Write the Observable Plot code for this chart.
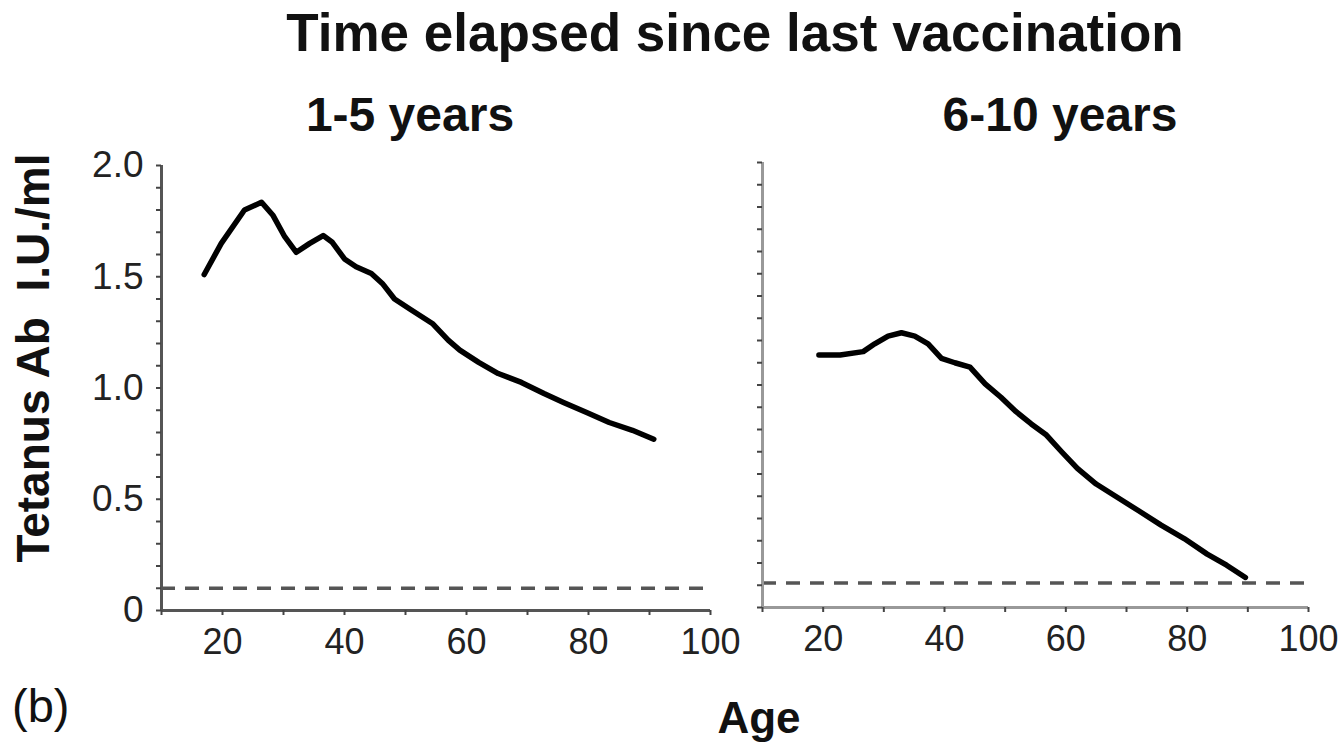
<!DOCTYPE html>
<html>
<head>
<meta charset="utf-8">
<script src="https://cdn.jsdelivr.net/npm/d3@7"></script>
<script src="https://cdn.jsdelivr.net/npm/@observablehq/plot@0.6"></script>
<style>
  html, body { margin: 0; padding: 0; background: #fff; }
  #wrap { position: relative; width: 1340px; height: 746px; overflow: hidden; background: #fff;
          font-family: "Liberation Sans", Arial, sans-serif; color: #111; }
  .t { position: absolute; white-space: nowrap; line-height: 1; }
  .panel { position: absolute; top: 0; }
</style>
</head>
<body>
<div id="wrap">
  <div class="t" id="title" style="font-size:53px;font-weight:bold;left:0;width:1470px;text-align:center;top:6px;">Time elapsed since last vaccination</div>
  <div class="t" id="sub1" style="font-size:48px;font-weight:bold;left:210px;width:400px;text-align:center;top:91px;">1-5 years</div>
  <div class="t" id="sub2" style="font-size:48px;font-weight:bold;left:860px;width:400px;text-align:center;top:91px;">6-10 years</div>
  <div class="t" id="ylab" style="font-size:46px;font-weight:bold;left:33px;top:358px;transform:translate(-50%,-50%) rotate(-90deg);">Tetanus Ab&nbsp;&nbsp;I.U./ml</div>
  <div class="t" id="xlab" style="font-size:44px;font-weight:bold;left:559px;width:400px;text-align:center;top:696px;">Age</div>
  <div class="t" id="tag" style="font-size:47px;left:12px;top:682px;">(b)</div>
  <div class="panel" id="p1" style="left:0px;"></div>
  <div class="panel" id="p2" style="left:740px;"></div>
</div>
<script>
// ---- data ----
const panelNames = ["1-5 years", "6-10 years"];

const leftAge = [17.0, 19.8, 23.6, 26.4, 28.3, 30.2, 32.1, 34.3, 36.5, 38.0, 40.0, 41.9, 44.4, 46.2, 48.2, 50.7, 54.4, 57.0, 58.9, 62.0, 65.2, 69.0, 72.7, 75.9, 79.7, 83.4, 87.2, 90.7];
const leftAb  = [1.51, 1.65, 1.80, 1.835, 1.775, 1.68, 1.61, 1.65, 1.685, 1.655, 1.58, 1.545, 1.515, 1.47, 1.40, 1.355, 1.29, 1.215, 1.17, 1.115, 1.065, 1.025, 0.975, 0.935, 0.89, 0.845, 0.81, 0.77];

const rightAge = [19.3, 22.8, 26.6, 28.5, 30.7, 32.9, 35.1, 37.3, 39.5, 41.7, 44.2, 46.7, 49.3, 51.8, 54.3, 56.8, 59.3, 61.9, 65.0, 68.2, 72.0, 75.7, 79.5, 83.3, 86.5, 89.6];
const rightAb  = [1.135, 1.135, 1.15, 1.185, 1.22, 1.235, 1.22, 1.185, 1.12, 1.10, 1.08, 1.005, 0.945, 0.88, 0.825, 0.775, 0.70, 0.625, 0.555, 0.50, 0.435, 0.37, 0.31, 0.24, 0.19, 0.135];

const protectiveLevel = [0.1, 0.11]; // dashed reference line per panel

const xTicks = [10, 20, 30, 40, 50, 60, 70, 80, 90, 100];
const xTickLabels = [20, 40, 60, 80, 100];
const yTicks = [0, 0.1, 0.2, 0.3, 0.4, 0.5, 0.6, 0.7, 0.8, 0.9, 1.0, 1.1, 1.2, 1.3, 1.4, 1.5, 1.6, 1.7, 1.8, 1.9, 2.0];
const yTickLabels = ["0", "0.5", "1.0", "1.5", "2.0"];

// ---- build ----
const rows = (ages, abs) => ages.map((a, i) => ({age: a, ab: abs[i]}));
const fmtY = d => { const s = d === 0 ? "0" : d.toFixed(1); return yTickLabels.includes(s) ? s : ""; };
const fmtX = d => xTickLabels.includes(d) ? String(d) : "";

function panel({data, level, width, height, ml, mr, mt, mb, showYLabels, axisColor}) {
  return Plot.plot({
    width, height,
    marginLeft: ml, marginRight: mr, marginTop: mt, marginBottom: mb,
    x: {domain: [10, 100]},
    y: {domain: [0, 2]},
    style: {fontFamily: "'Liberation Sans', Arial, sans-serif", fontSize: "36px", color: "#222", background: "transparent", overflow: "visible"},
    marks: [
      Plot.ruleY([level], {stroke: "#555", strokeWidth: 3.5, strokeDasharray: "14,10"}),
      Plot.ruleX([10], {stroke: axisColor, strokeWidth: 3}),
      Plot.ruleY([0], {stroke: axisColor, strokeWidth: 3}),
      Plot.axisY({ticks: yTicks, tickSize: 5, tickPadding: 13, tickFormat: showYLabels ? fmtY : () => "", stroke: "#444", strokeWidth: 2, fill: "#222", fontSize: 37, label: null}),
      Plot.axisX({ticks: xTicks, tickSize: 5, tickPadding: 13, tickFormat: fmtX, stroke: "#444", strokeWidth: 2, fill: "#222", fontSize: 36, label: null}),
      Plot.line(data, {x: "age", y: "ab", stroke: "#000", strokeWidth: 5.5, strokeLinejoin: "round", strokeLinecap: "round"})
    ]
  });
}

document.getElementById("p1").append(panel({
  data: rows(leftAge, leftAb), level: protectiveLevel[0],
  width: 735, height: 700, ml: 161, mr: 25, mt: 165, mb: 90, showYLabels: true, axisColor: "#555"
}));
document.getElementById("p2").append(panel({
  data: rows(rightAge, rightAb), level: protectiveLevel[1],
  width: 600, height: 700, ml: 22, mr: 32, mt: 162, mb: 93, showYLabels: false, axisColor: "#999"
}));
</script>
</body>
</html>
